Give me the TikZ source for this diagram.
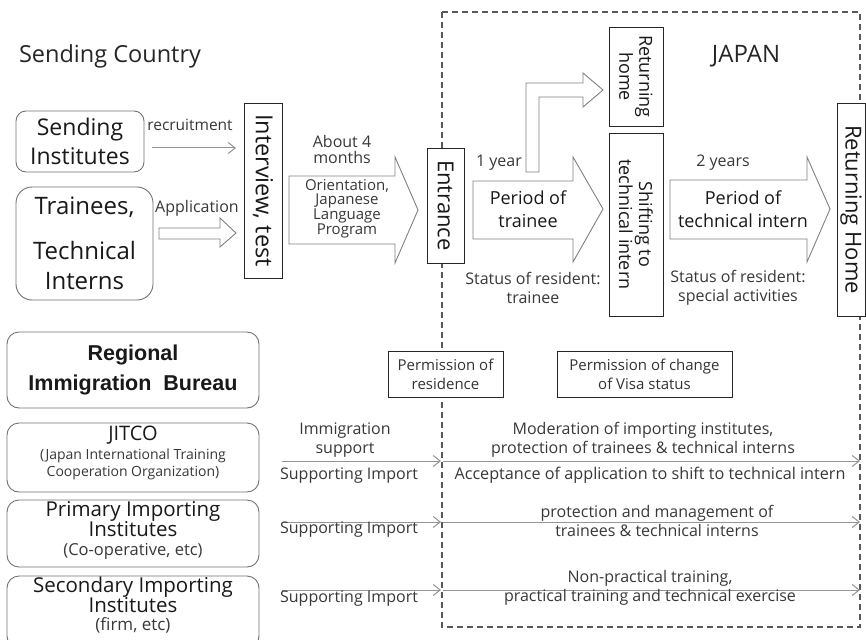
\documentclass[tikz,border=0pt]{standalone}
\usepackage{fontspec}
\setmainfont{Open Sans}
\newfontfamily\bfont{Liberation Sans}
\usetikzlibrary{arrows.meta}
\newcommand{\myfs}[2]{\fontsize{#1}{#2}\selectfont}
\begin{document}
\begin{tikzpicture}[x=1pt,y=-1pt,
  lbl/.style={text=black!78, font=\myfs{16}{19}, align=center, inner sep=0pt},
  ln/.style={text=black!78, font=\myfs{16}{19}, inner sep=0pt, text height=0.72em, text depth=0pt},
  box/.style={draw=black!85, fill=white, line width=0.9pt, align=center, inner sep=0pt, text=black!90},
  rbox/.style={draw=black!55, fill=white, line width=0.9pt, rounded corners=#1, inner sep=0pt, align=center, text=black!90},
  rbox/.default=10pt,
  thinarr/.style={draw=black!42, line width=1pt, -{Straight Barb[length=7pt,width=11pt]}},
  blk/.style={draw=black!50, fill=white, line width=0.9pt, line join=miter},
]
\useasboundingbox (0,0) rectangle (866,639);
\clip (0,0) rectangle (866,639);

% Japan region
\draw[black!65, line width=1.1pt, dash pattern=on 6pt off 4pt] (442,12) rectangle (860,627);

% block arrows
\draw[blk] (159,228) -- (220,228) -- (220,218) -- (236,233) -- (220,247) -- (220,239) -- (159,239) -- cycle;
\draw[blk] (289,176) -- (395,176) -- (395,157) -- (418,210) -- (395,263) -- (395,244) -- (289,244) -- cycle;
\draw[blk] (473,181) -- (573,181) -- (573,157) -- (603,209) -- (573,262) -- (573,239) -- (473,239) -- cycle;
\draw[blk] (670,180) -- (807,180) -- (807,157) -- (830,209) -- (807,262) -- (807,239) -- (670,239) -- cycle;
\draw[blk] (526,172) -- (526,83) -- (583,83) -- (583,73) -- (603,90) -- (583,107) -- (583,97) -- (539,97) -- (539,172) -- cycle;

% titles
\node[text=black!85, font=\myfs{23.5}{26}, inner sep=0pt] (sc) at (110,56) {Sending Country};
\node[text=black!85, font=\myfs{24}{26}, inner sep=0pt] (jp) at (746,56) {JAPAN};

% left boxes
\node[rbox=10pt, minimum width=128pt, minimum height=61pt, font=\myfs{23}{29}] (si) at (80,141.5) {Sending\\Institutes};
\node[rbox=16pt, minimum width=137pt, minimum height=113pt, font=\myfs{24}{30}] (tr) at (84.5,243.5) {Trainees,\\[15pt]Technical\\Interns};

% vertical boxes
\node[box, rotate=-90, minimum width=175pt, minimum height=38pt, font=\myfs{23.5}{26}] (iv) at (263,190.5) {Interview, test};
\node[box, rotate=-90, minimum width=115pt, minimum height=37pt, font=\myfs{22}{26}] (en) at (445.5,205.5) {Entrance};
\node[box, rotate=-90, minimum width=99pt, minimum height=54pt, font=\myfs{18}{20}] (rh) at (636,76.5) {Returning\\home};
\node[box, rotate=-90, minimum width=183pt, minimum height=54pt, font=\myfs{18}{20}] (sh) at (636,224.5) {Shifting to\\technical intern};
\node[box, rotate=-90, minimum width=213pt, minimum height=28pt, font=\myfs{22}{26}] (RH) at (851,209.5) {Returning Home};

% thin arrow top
\coordinate (r1) at (152,148);
\coordinate (r2) at (236,148);
\draw[thinarr] (r1) -- (r2);

% labels top
\node[ln, font=\myfs{15.5}{19}] (rec) at (190,127) {recruitment};
\node[ln] (app) at (197,209) {Application};
\node[lbl, font=\myfs{16}{16}] (ab4) at (342,150) {About 4\\months};
\node[lbl, font=\myfs{15}{14.6}] (ori) at (347,208.5) {Orientation,\\Japanese\\Language\\Program};
\node[ln] (y1) at (499,163) {1 year};
\node[lbl, font=\myfs{18}{23}, text=black!90] (pt) at (528,209.5) {Period of\\trainee};
\node[lbl] (st1) at (533,287.5) {Status of resident:\\trainee};
\node[ln] (y2) at (723,163) {2 years};
\node[lbl, font=\myfs{18}{23}, text=black!90] (pti) at (743,209.5) {Period of\\technical intern};
\node[lbl] (st2) at (738,287.5) {Status of resident:\\special activities};

% permission boxes
\node[box, minimum width=115pt, minimum height=46pt, font=\myfs{15}{19}, text=black!80] (pr) at (445.5,374) {Permission of\\residence};
\node[box, minimum width=175pt, minimum height=46pt, font=\myfs{15}{19}, text=black!80] (pc) at (644.5,374) {Permission of change\\of Visa status};

% lower left boxes
\node[rbox=12pt, minimum width=252pt, minimum height=76pt, font=\bfont\bfseries\myfs{21.5}{30}] (rib) at (133,370) {Regional\\Immigration\ \ Bureau};
\node[rbox=12pt, minimum width=252pt, minimum height=69pt] (jit) at (133,457.5) {};
\node[ln, font=\myfs{20}{20}, text=black!90] (jit1) at (133,437) {JITCO};
\node[ln, font=\myfs{14}{19}] (jit2) at (133,456) {(Japan International Training};
\node[ln, font=\myfs{14}{19}] (jit3) at (133,473) {Cooperation Organization)};
\node[rbox=12pt, minimum width=252pt, minimum height=67pt] (pri) at (133,533.5) {};
\node[ln, font=\myfs{20.5}{20}, text=black!90] (pri1) at (133,513) {Primary Importing};
\node[ln, font=\myfs{20.5}{20}, text=black!90] (pri2) at (133,533) {Institutes};
\node[ln, font=\myfs{16.5}{19}] (pri3) at (133,552) {(Co-operative, etc)};
\node[rbox=12pt, minimum width=252pt, minimum height=72pt] (sec) at (133,612) {};
\node[ln, font=\myfs{20.5}{20}, text=black!90] (sec1) at (133,589) {Secondary Importing};
\node[ln, font=\myfs{20.5}{20}, text=black!90] (sec2) at (133,609) {Institutes};
\node[ln, font=\myfs{17}{19}] (sec3) at (133,627) {(firm, etc)};

% lower arrows
\coordinate (a1s) at (282,461); \coordinate (a1m) at (441,461);
\coordinate (a1n) at (443,461); \coordinate (a1e) at (860,461);
\coordinate (a2s) at (282,522); \coordinate (a2m) at (441,522);
\coordinate (a2n) at (443,522); \coordinate (a2e) at (860,522);
\coordinate (a3s) at (282,590); \coordinate (a3m) at (441,590);
\coordinate (a3n) at (443,590); \coordinate (a3e) at (860,590);
\draw[thinarr] (a1s) -- (a1m);
\draw[thinarr] (a1n) -- (a1e);
\draw[thinarr] (a2s) -- (a2m);
\draw[thinarr] (a2n) -- (a2e);
\draw[thinarr] (a3s) -- (a3m);
\draw[thinarr] (a3n) -- (a3e);

% lower labels
\node[lbl] (ims) at (345,440.5) {Immigration\\support};
\node[ln] (sup1) at (349,476) {Supporting Import};
\node[ln] (sup2) at (349,530) {Supporting Import};
\node[ln] (sup3) at (349,599) {Supporting Import};
\node[lbl] (mod) at (643,439.5) {Moderation of importing institutes,\\protection of trainees \& technical interns};
\node[ln, font=\myfs{16.2}{19}] (acc) at (650,476) {Acceptance of application to shift to technical intern};
\node[lbl] (pmt) at (657,520.5) {protection and management of\\trainees \& technical interns};
\node[lbl] (npt) at (650,587.5) {Non-practical training,\\practical training and technical exercise};
\end{tikzpicture}
\end{document}
